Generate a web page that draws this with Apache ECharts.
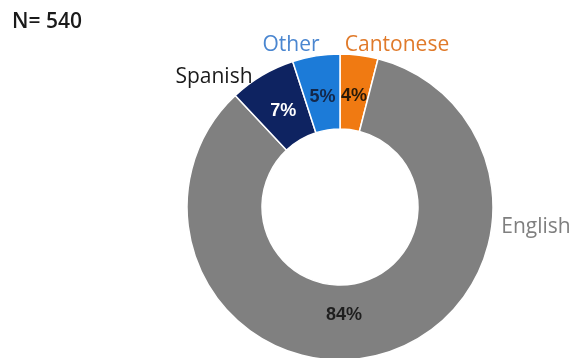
<!DOCTYPE html>
<html>
<head>
<meta charset="utf-8">
<script src="https://cdn.jsdelivr.net/npm/echarts@6/dist/echarts.min.js"></script>
<style>
  html, body { margin: 0; padding: 0; background: #fff; }
  #chart { width: 571px; height: 358px; }
</style>
</head>
<body>
<div id="chart"></div>
<script>
// Language spoken at home, share of respondents (%)
const sampleSize = 540;
const languages = ['Cantonese', 'English', 'Spanish', 'Other'];
const shares = [4, 84, 7, 5];

// Styling per language, in the same order as the data
const sliceColors = ['#F07A12', '#808080', '#0E2361', '#1C7BD8'];
const nameColors = ['#E07A2A', '#7F7F7F', '#1A1A1A', '#4A86D0'];
const pctColors = ['#2A1A08', '#1E1E1E', '#FFFFFF', '#14284A'];

// Where each outside name label sits (centre of the text)
const namePos = [[397, 45], [536, 227], [214, 77], [291, 45]];
const pctOverride = { 1: [344, 315] };
const pctInset = 7; // pull the small-slice percentages a little toward the hole

const center = [340, 207];
const radius = [78, 153];

const chart = echarts.init(document.getElementById('chart'), null, { renderer: 'canvas' });
chart.setOption({
  animation: false,
  backgroundColor: '#ffffff',
  title: {
    text: 'N= ' + sampleSize,
    left: 7,
    top: 7,
    textStyle: {
      fontFamily: 'Open Sans',
      fontSize: 21,
      fontWeight: 600,
      color: '#1A1A1A'
    }
  },
  series: [
    {
      // slices with the percentage inside each one
      type: 'pie',
      center,
      radius,
      startAngle: 90,
      clockwise: true,
      avoidLabelOverlap: false,
      data: languages.map((name, i) => ({
        name,
        value: shares[i],
        itemStyle: { color: sliceColors[i] },
        label: { color: pctColors[i] }
      })),
      itemStyle: { borderColor: '#ffffff', borderWidth: 1.5 },
      label: {
        show: true,
        position: 'inside',
        formatter: '{c}%',
        fontFamily: 'Liberation Sans',
        fontSize: 18,
        fontWeight: 'bold'
      },
      labelLine: { show: false },
      labelLayout: p => {
        const o = pctOverride[p.dataIndex];
        if (o) return { x: o[0], y: o[1], align: 'center', verticalAlign: 'middle' };
        const r = p.labelRect;
        const cx = r.x + r.width / 2 - center[0];
        const cy = r.y + r.height / 2 - center[1];
        const len = Math.sqrt(cx * cx + cy * cy) || 1;
        return { dx: -cx / len * pctInset, dy: -cy / len * pctInset };
      },
      emphasis: { disabled: true }
    },
    {
      // same slices, invisible, carrying the language names outside the ring
      type: 'pie',
      center,
      radius,
      startAngle: 90,
      clockwise: true,
      silent: true,
      avoidLabelOverlap: false,
      data: languages.map((name, i) => ({
        name,
        value: shares[i],
        label: { color: nameColors[i] }
      })),
      itemStyle: { color: 'rgba(0,0,0,0)', borderWidth: 0 },
      label: {
        show: true,
        position: 'outside',
        formatter: '{b}',
        fontFamily: 'Open Sans',
        fontSize: 21
      },
      labelLine: { show: false },
      labelLayout: p => ({
        x: namePos[p.dataIndex][0],
        y: namePos[p.dataIndex][1],
        align: 'center',
        verticalAlign: 'middle'
      }),
      emphasis: { disabled: true }
    }
  ]
});
</script>
</body>
</html>
